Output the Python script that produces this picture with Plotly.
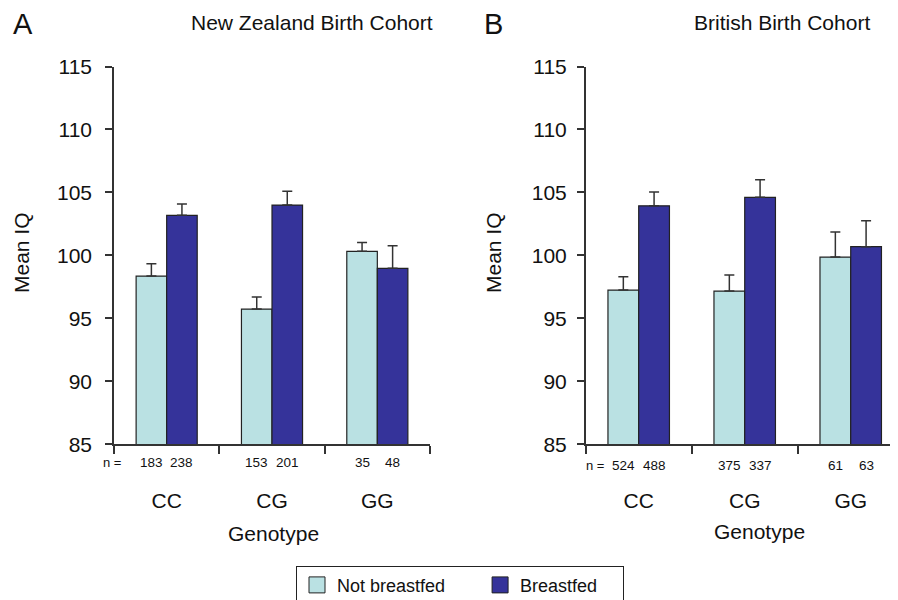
import plotly.graph_objects as go

genotypes = ["CC", "CG", "GG"]

# Panel A: New Zealand Birth Cohort
nz_not_bf = [98.36, 95.74, 100.32]
nz_not_bf_se = [0.98, 0.95, 0.70]
nz_bf = [103.18, 104.00, 98.97]
nz_bf_se = [0.90, 1.10, 1.80]
nz_n_not_bf = ["183", "153", "35"]
nz_n_bf = ["238", "201", "48"]

# Panel B: British Birth Cohort
uk_not_bf = [97.25, 97.17, 99.87]
uk_not_bf_se = [1.05, 1.27, 1.99]
uk_bf = [103.94, 104.61, 100.69]
uk_bf_se = [1.09, 1.39, 2.06]
uk_n_not_bf = ["524", "375", "61"]
uk_n_bf = ["488", "337", "63"]

y_ticks = [85, 90, 95, 100, 105, 110, 115]

LIGHT = "#BAE1E3"
DARK = "#35339A"
EDGE = "#222222"
AX = "#333333"
FONT = "Liberation Sans, Arial, sans-serif"
# the page body has an 8px margin, so the figure starts at (8, 8)
OFF = 8
W, H = 898 - OFF, 600 - OFF


def px(x):
    return (x - OFF) / W


def py(y):
    return 1 - (y - OFF) / H


fig = go.Figure()


def add_panel(nb, nb_se, bf, bf_se, xa, ya):
    for vals, se, col, name in [(nb, nb_se, LIGHT, "Not breastfed"), (bf, bf_se, DARK, "Breastfed")]:
        fig.add_trace(go.Bar(
            x=genotypes, y=vals, name=name, showlegend=False,
            marker=dict(color=col, line=dict(color=EDGE, width=1.2)),
            error_y=dict(type="data", array=se, arrayminus=[0] * len(se), symmetric=False,
                         color=AX, thickness=1.5, width=5),
            xaxis=xa, yaxis=ya,
        ))


add_panel(nz_not_bf, nz_not_bf_se, nz_bf, nz_bf_se, "x", "y")
add_panel(uk_not_bf, uk_not_bf_se, uk_bf, uk_bf_se, "x2", "y2")

# legend entries
NB = "&nbsp;"
for col, name, pad in [(LIGHT, "Not breastfed", 6), (DARK, "Breastfed", 4)]:
    fig.add_trace(go.Scatter(
        x=[None], y=[None], mode="markers", name=name + NB * pad,
        marker=dict(symbol="square", size=18, color=col, line=dict(color=EDGE, width=1)),
        xaxis="x", yaxis="y", showlegend=True,
    ))

ydom = [py(444.3), py(66.5)]
xaxis_common = dict(
    type="category", showline=True, linecolor=AX, linewidth=1.5,
    ticks="outside", tickson="boundaries", ticklen=8, tickcolor=AX, tickwidth=1.5,
    tickfont=dict(size=21, family=FONT, color="#111"), ticklabelstandoff=37,
    showgrid=False, zeroline=False, fixedrange=True,
)
yaxis_common = dict(
    range=[85, 115], tickvals=y_ticks, showline=True, linecolor=AX, linewidth=1.5,
    ticks="outside", ticklen=7, tickcolor=AX, tickwidth=1.5,
    tickfont=dict(size=21, family=FONT, color="#111"),
    showgrid=False, zeroline=False, domain=ydom,
)

fig.update_layout(
    width=W, height=H,
    margin=dict(l=0, r=0, t=0, b=0, autoexpand=False),
    paper_bgcolor="white", plot_bgcolor="white",
    barmode="group", bargap=0.42, bargroupgap=0,
    font=dict(family=FONT, color="#111"),
    xaxis=dict(**xaxis_common, domain=[px(114), px(430)], range=[-0.5, 2.5], anchor="y"),
    yaxis=dict(**yaxis_common, anchor="x", ticklabelstandoff=9),
    xaxis2=dict(**xaxis_common, domain=[px(585.7), 1.0], range=[-0.5, 2.446], anchor="y2"),
    yaxis2=dict(**yaxis_common, anchor="x2", ticklabelstandoff=6),
    legend=dict(
        orientation="h", x=px(296), y=py(565.7), xanchor="left", yanchor="top",
        bordercolor=EDGE, borderwidth=1, font=dict(size=18, family=FONT, color="#111"),
    ),
    showlegend=True,
)

ann = []


def txt(x, y, s, size, xref="paper", **kw):
    ann.append(dict(x=x, y=y, xref=xref, yref="paper", text=s, showarrow=False,
                    font=dict(size=size, family=FONT, color="#111"),
                    xanchor="center", yanchor="middle",
                    textangle=kw.get("textangle", 0)))


# panel letters and titles
txt(px(22.5), py(24), "A", 29)
txt(px(311.5), py(22), "New Zealand Birth Cohort", 21)
txt(px(493), py(24), "B", 29)
txt(px(782), py(22), "British Birth Cohort", 21)

# y axis titles
txt(px(22), py(253), "Mean IQ", 21, textangle=-90)
txt(px(494), py(253), "Mean IQ", 21, textangle=-90)

# x axis titles
txt(px(273.7), py(533), "Genotype", 21)
txt(px(759.5), py(531.7), "Genotype", 21)

# n labels
off = 0.145
txt(px(111.7), py(462.5), "n =", 13)
for i, g in enumerate(genotypes):
    txt(i - off, py(462.5), nz_n_not_bf[i], 13.5, xref="x")
    txt(i + off, py(462.5), nz_n_bf[i], 13.5, xref="x")
txt(px(594.7), py(465.3), "n =", 13)
for i, g in enumerate(genotypes):
    txt(i - off, py(465.3), uk_n_not_bf[i], 13.5, xref="x2")
    txt(i + off, py(465.3), uk_n_bf[i], 13.5, xref="x2")

fig.update_layout(annotations=ann)
fig.write_html("out.html")
